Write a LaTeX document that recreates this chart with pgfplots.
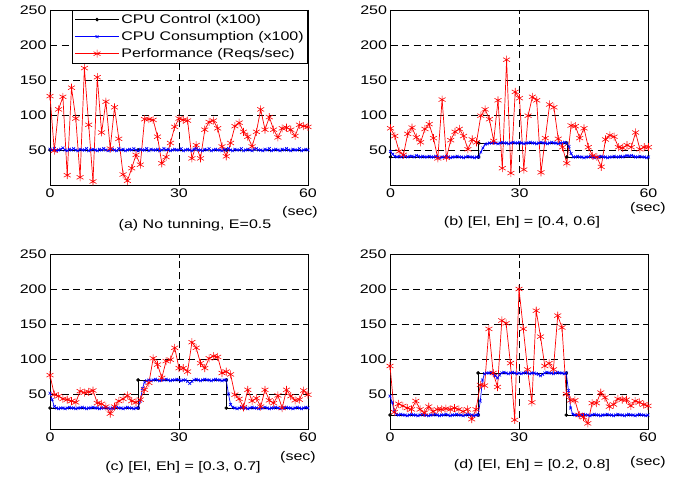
\documentclass[border=0pt]{standalone}
\usepackage{fontspec}
\setmainfont{Liberation Sans}[FakeStretch=1.28]
\usepackage{pgfplots}
\pgfplotsset{compat=1.18}
\newcommand\chartfont{\fontsize{12.5}{15}\selectfont}

\pgfplotsset{
  panel/.style={
    width=258pt, height=175pt, scale only axis,
    xmin=0, xmax=60, ymin=0, ymax=250,
    xtick={0,30,60}, ytick={50,100,150,200,250},
    tick pos=both, tick align=inside, major tick length=4pt,
    grid=major,
    major grid style={black, line width=0.5pt, dash pattern=on 7pt off 4.5pt},
    axis line style={line width=0.7pt},
    tick style={black, line width=0.6pt},
    ticklabel style={font=\chartfont, /pgf/number format/assume math mode=true},
    clip=false,
  },
  ctrl/.style={black, line width=0.6pt, mark=*, mark size=1.5pt},
  cons/.style={blue, line width=0.7pt, mark=x, mark size=2pt, mark options={line width=0.6pt}},
  perf/.style={red, line width=0.7pt, mark=asterisk, mark size=4pt, mark options={line width=0.6pt}},
}

\begin{document}
\begin{tikzpicture}[x=1pt, y=1pt]
\useasboundingbox (0,0) rectangle (675,480);

% (a) no tuning
\begin{axis}[panel, at={(50pt,295pt)}, anchor=south west,
  legend style={at={(1,1)}, anchor=north east, draw=black, line width=0.6pt,
    font=\chartfont, inner xsep=2pt, inner ysep=2pt, row sep=2.5pt, cells={anchor=west}},
  legend image code/.code={\draw[mark repeat=2, mark phase=2] plot coordinates {(0pt,0pt)(22pt,0pt)(44pt,0pt)};}]
\addlegendimage{ctrl}
\addplot[ctrl, forget plot, mark indices={1,2,3}] coordinates {(0,50)(20.5,50)(41,50)(60,50)};
\addplot[cons] coordinates {
(0,51)(0.5,50)(1,52)(1.5,49)(2,50)(2.5,51)(3,53)(3.5,50)(4,49)(4.5,51)
(5,50)(5.5,52)(6,50)(6.5,49)(7,51)(7.5,50)(8,50)(8.5,52)(9,49)(9.5,50)
(10,51)(10.5,50)(11,49)(11.5,51)(12,50)(12.5,52)(13,50)(13.5,49)(14,50)(14.5,51)
(15,50)(15.5,49)(16,52)(16.5,50)(17,51)(17.5,49)(18,50)(18.5,51)(19,50)(19.5,52)
(20,50)(20.5,49)(21,51)(21.5,50)(22,50)(22.5,52)(23,49)(23.5,51)(24,50)(24.5,50)
(25,51)(25.5,49)(26,50)(26.5,52)(27,50)(27.5,51)(28,49)(28.5,50)(29,51)(29.5,50)
(30,50)(30.5,52)(31,49)(31.5,50)(32,51)(32.5,50)(33,49)(33.5,51)(34,52)(34.5,50)
(35,50)(35.5,49)(36,51)(36.5,50)(37,52)(37.5,49)(38,50)(38.5,51)(39,50)(39.5,50)
(40,49)(40.5,51)(41,50)(41.5,52)(42,50)(42.5,49)(43,51)(43.5,50)(44,50)(44.5,52)
(45,49)(45.5,50)(46,51)(46.5,50)(47,49)(47.5,51)(48,52)(48.5,50)(49,50)(49.5,49)
(50,51)(50.5,50)(51,52)(51.5,49)(52,50)(52.5,51)(53,50)(53.5,49)(54,51)(54.5,50)
(55,52)(55.5,50)(56,49)(56.5,51)(57,50)(57.5,50)(58,52)(58.5,49)(59,50)(59.5,51)
(60,50)};
\addplot[perf] coordinates {
(0,127)(1,49)(2,108)(3,126)(4,14)(5,139)(6,95)(7,11)(8,167)(9,86)
(10,5)(11,154)(12,75)(13,119)(14,52)(15,111)(16,66)(17,15)(18,6)(19,24)
(20,43)(21,29)(22,94)(23,94)(24,93)(25,69)(26,31)(27,40)(28,60)(29,83)
(30,95)(31,93)(32,92)(33,38)(34,57)(35,38)(36,79)(37,90)(38,92)(39,81)
(40,55)(41,41)(42,60)(43,84)(44,89)(45,76)(46,69)(47,55)(48,76)(49,108)
(50,79)(51,97)(52,79)(53,68)(54,81)(55,82)(56,79)(57,70)(58,86)(59,84)
(60,83)};
\legend{CPU Control (x100), CPU Consumption (x100), Performance (Reqs/sec)}
\end{axis}

% (b) [0.4, 0.6]
\begin{axis}[panel, at={(390.5pt,295pt)}, anchor=south west]
\addplot[ctrl, mark indices={1,2,3,4,5}] coordinates {(0,40)(20.5,40)(20.5,60)(41,60)(41,40)(60,40)};
\addplot[cons] coordinates {
(0,48)(0.5,44)(1,41)(1.5,40)(2,41)(2.5,40)(3,42)(3.5,41)(4,40)(4.5,41)
(5,41)(5.5,40)(6,42)(6.5,41)(7,40)(7.5,41)(8,40)(8.5,40)(9,41)(9.5,40)
(10,40)(10.5,41)(11,40)(11.5,39)(12,40)(12.5,40)(13,41)(13.5,40)(14,39)(14.5,40)
(15,40)(15.5,41)(16,40)(16.5,40)(17,39)(17.5,40)(18,41)(18.5,40)(19,40)(19.5,39)
(20,40)(20.5,40)(21,47)(21.5,53)(22,58)(22.5,59)(23,60)(23.5,60)(24,61)(24.5,60)
(25,59)(25.5,60)(26,61)(26.5,60)(27,60)(27.5,59)(28,60)(28.5,61)(29,60)(29.5,60)
(30,61)(30.5,60)(31,59)(31.5,60)(32,60)(32.5,61)(33,60)(33.5,60)(34,59)(34.5,60)
(35,61)(35.5,60)(36,60)(36.5,59)(37,60)(37.5,61)(38,60)(38.5,60)(39,59)(39.5,60)
(40,60)(40.5,61)(41,60)(41.5,55)(42,45)(42.5,40)(43,40)(43.5,41)(44,40)(44.5,40)
(45,39)(45.5,40)(46,40)(46.5,41)(47,40)(47.5,39)(48,40)(48.5,40)(49,41)(49.5,40)
(50,40)(50.5,39)(51,40)(51.5,40)(52,41)(52.5,40)(53,40)(53.5,41)(54,40)(54.5,41)
(55,42)(55.5,41)(56,42)(56.5,41)(57,40)(57.5,40)(58,41)(58.5,40)(59,40)(59.5,39)
(60,40)};
\addplot[perf] coordinates {
(0,81)(1,70)(2,48)(3,43)(4,73)(5,82)(6,68)(7,61)(8,80)(9,87)
(10,67)(11,38)(12,122)(13,39)(14,64)(15,76)(16,80)(17,70)(18,51)(19,65)
(20,61)(21,99)(22,108)(23,94)(24,63)(25,121)(26,24)(27,179)(28,17)(29,133)
(30,124)(31,22)(32,99)(33,126)(34,121)(35,18)(36,67)(37,115)(38,111)(39,66)
(40,54)(41,31)(42,85)(43,84)(44,67)(45,81)(46,54)(47,42)(48,40)(49,26)
(50,65)(51,71)(52,69)(53,54)(54,53)(55,57)(56,54)(57,75)(58,51)(59,54)
(60,54)};
\end{axis}

% (c) [0.3, 0.7]
\begin{axis}[panel, at={(50pt,51pt)}, anchor=south west]
\addplot[ctrl, mark indices={1,2,3,4,5}] coordinates {(0,30)(20.5,30)(20.5,70)(41,70)(41,30)(60,30)};
\addplot[cons] coordinates {
(0,51)(0.5,42)(1,32)(1.5,30)(2,29)(2.5,30)(3,30)(3.5,29)(4,30)(4.5,31)
(5,30)(5.5,30)(6,29)(6.5,30)(7,30)(7.5,31)(8,30)(8.5,29)(9,30)(9.5,30)
(10,31)(10.5,30)(11,30)(11.5,29)(12,30)(12.5,30)(13,31)(13.5,30)(14,29)(14.5,30)
(15,30)(15.5,31)(16,30)(16.5,30)(17,29)(17.5,30)(18,31)(18.5,30)(19,30)(19.5,29)
(20,30)(20.5,30)(21,40)(21.5,58)(22,67)(22.5,69)(23,70)(23.5,69)(24,70)(24.5,71)
(25,70)(25.5,69)(26,70)(26.5,70)(27,71)(27.5,70)(28,69)(28.5,70)(29,70)(29.5,71)
(30,70)(30.5,69)(31,70)(31.5,70)(32,68)(32.5,65)(33,68)(33.5,70)(34,71)(34.5,70)
(35,69)(35.5,70)(36,71)(36.5,70)(37,70)(37.5,69)(38,70)(38.5,71)(39,70)(39.5,70)
(40,69)(40.5,70)(41,70)(41.5,50)(42,35)(42.5,31)(43,30)(43.5,29)(44,30)(44.5,31)
(45,30)(45.5,30)(46,29)(46.5,30)(47,31)(47.5,30)(48,30)(48.5,29)(49,30)(49.5,30)
(50,31)(50.5,30)(51,29)(51.5,30)(52,30)(52.5,31)(53,30)(53.5,29)(54,30)(54.5,30)
(55,31)(55.5,30)(56,30)(56.5,29)(57,30)(57.5,31)(58,30)(58.5,29)(59,30)(59.5,31)
(60,30)};
\addplot[perf] coordinates {
(0,77)(1,49)(2,47)(3,43)(4,42)(5,40)(6,38)(7,54)(8,52)(9,53)
(10,55)(11,37)(12,36)(13,32)(14,22)(15,32)(16,40)(17,43)(18,48)(19,40)
(20,38)(21,42)(22,56)(23,66)(24,101)(25,92)(26,73)(27,97)(28,99)(29,116)
(30,87)(31,87)(32,82)(33,124)(34,116)(35,94)(36,87)(37,101)(38,104)(39,103)
(40,80)(41,82)(42,78)(43,49)(44,43)(45,31)(46,56)(47,40)(48,44)(49,32)
(50,56)(51,41)(52,37)(53,48)(54,30)(55,56)(56,47)(57,41)(58,42)(59,55)
(60,49)};
\end{axis}

% (d) [0.2, 0.8]
\begin{axis}[panel, at={(390pt,51pt)}, anchor=south west]
\addplot[ctrl, mark indices={1,2,3,4,5}] coordinates {(0,20)(20.5,20)(20.5,80)(41,80)(41,20)(60,20)};
\addplot[cons] coordinates {
(0,47)(0.5,38)(1,25)(1.5,21)(2,20)(2.5,21)(3,20)(3.5,20)(4,19)(4.5,20)
(5,21)(5.5,20)(6,20)(6.5,19)(7,20)(7.5,21)(8,20)(8.5,20)(9,19)(9.5,20)
(10,20)(10.5,21)(11,20)(11.5,19)(12,20)(12.5,20)(13,21)(13.5,20)(14,19)(14.5,20)
(15,20)(15.5,21)(16,20)(16.5,20)(17,19)(17.5,20)(18,21)(18.5,20)(19,20)(19.5,19)
(20,20)(20.5,20)(21,40)(21.5,70)(22,79)(22.5,80)(23,80)(23.5,81)(24,79)(24.5,76)
(25,73)(25.5,77)(26,80)(26.5,81)(27,80)(27.5,79)(28,80)(28.5,81)(29,80)(29.5,79)
(30,80)(30.5,79)(31,80)(31.5,81)(32,80)(32.5,79)(33,80)(33.5,80)(34,79)(34.5,78)
(35,76)(35.5,78)(36,80)(36.5,81)(37,80)(37.5,80)(38,79)(38.5,80)(39,81)(39.5,80)
(40,80)(40.5,79)(41,80)(41.5,55)(42,30)(42.5,21)(43,20)(43.5,20)(44,19)(44.5,20)
(45,21)(45.5,20)(46,20)(46.5,19)(47,20)(47.5,21)(48,20)(48.5,20)(49,19)(49.5,20)
(50,20)(50.5,21)(51,20)(51.5,20)(52,19)(52.5,20)(53,21)(53.5,20)(54,20)(54.5,19)
(55,20)(55.5,21)(56,20)(56.5,20)(57,19)(57.5,20)(58,21)(58.5,20)(59,20)(59.5,19)
(60,20)};
\addplot[perf] coordinates {
(0,90)(1,24)(2,36)(3,33)(4,30)(5,28)(6,40)(7,28)(8,23)(9,32)
(10,25)(11,28)(12,28)(13,29)(14,28)(15,30)(16,28)(17,25)(18,28)(19,14)
(20,28)(21,63)(22,62)(23,143)(24,80)(25,60)(26,155)(27,151)(28,94)(29,13)
(30,200)(31,143)(32,85)(33,38)(34,169)(35,132)(36,90)(37,94)(38,85)(39,162)
(40,145)(41,50)(42,41)(43,41)(44,20)(45,17)(46,8)(47,37)(48,37)(49,52)
(50,45)(51,32)(52,35)(53,43)(54,42)(55,42)(56,33)(57,40)(58,38)(59,35)
(60,33)};
\end{axis}

% unit labels and captions
\begin{scope}[every node/.style={font=\chartfont, inner sep=0pt}]
\node at (300,268) {(sec)};
\node at (648,272) {(sec)};
\node at (298,23) {(sec)};
\node at (648,18) {(sec)};
\node at (195,255) {(a) No tunning, E=0.5};
\node at (522,258) {(b) [El, Eh] = [0.4, 0.6]};
\node at (183,13) {(c) [El, Eh] = [0.3, 0.7]};
\node at (532,15) {(d) [El, Eh] = [0.2, 0.8]};
\end{scope}
\end{tikzpicture}
\end{document}
